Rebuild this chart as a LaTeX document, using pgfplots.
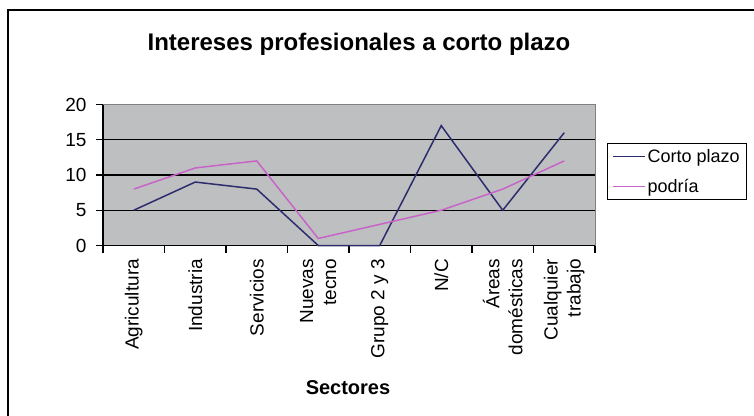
\documentclass[border=0pt]{standalone}
\usepackage{fontspec}
\setmainfont{Liberation Sans}
\usepackage{pgfplots}
\pgfplotsset{compat=1.18}

\definecolor{plotgray}{RGB}{190,191,193}
\definecolor{navyline}{RGB}{45,45,110}
\definecolor{pinkline}{RGB}{200,100,200}

\begin{document}
\begin{tikzpicture}
\path[use as bounding box, clip] (0pt,0pt) rectangle (754pt,415pt);
\fill[white] (0pt,0pt) rectangle (754pt,415pt);
\draw[line width=1.2pt] (8pt,-5pt) -- (8pt,405pt) -- (760pt,405pt);

\node[font=\fontsize{24}{28}\selectfont\bfseries] at (359pt,371pt) {Intereses profesionales a corto plazo};
\node[font=\fontsize{20}{24}\selectfont\bfseries] at (348pt,27pt) {Sectores};

\begin{axis}[
    at={(103pt,169.5pt)}, anchor=south west,
    scale only axis, width=492pt, height=141pt,
    xmin=-0.5, xmax=7.5, ymin=0, ymax=20,
    clip=false,
    axis x line*=bottom, axis y line*=left,
    axis line style={-, black, line width=1.2pt},
    axis background/.style={fill=plotgray, draw=gray},
    xtick={0,...,7},
    xticklabels={Agricultura, Industria, Servicios, {Nuevas\\tecno}, Grupo 2 y 3, N/C, {Áreas\\domésticas}, {Cualquier\\trabajo}},
    major x tick style={draw=none},
    minor xtick={-0.5,0.5,...,7.5},
    minor x tick style={black, line width=1.2pt},
    minor tick length=7pt,
    ytick={0,5,10,15},
    extra y ticks={20},
    extra y tick style={grid=none},
    ymajorgrids,
    major grid style={black, line width=1.2pt},
    y tick style={black, line width=1.2pt},
    major tick length=7pt,
    tick align=outside,
    /pgf/number format/assume math mode=true,
    tick label style={font=\fontsize{19}{23}\selectfont},
    xticklabel style={rotate=90, anchor=east, align=right},
    xticklabel shift=3pt,
    yticklabel shift=6pt,
    legend style={at={(1.0244,0.727)}, anchor=north west, draw=black, line width=0.8pt,
        font=\fontsize{18}{22}\selectfont, inner xsep=5pt, inner ysep=4pt, row sep=11pt, cells={anchor=west}},
    legend cell align=left,
    legend image code/.code={\draw[#1, line width=1.2pt] (0pt,0pt) -- (32pt,0pt);},
]
\addplot[navyline, line width=1.5pt, mark=none] coordinates {
    (0,5) (1,9) (2,8) (3,0) (4,0) (5,17) (6,5) (7,16)
};
\addlegendentry{Corto plazo}
\addplot[pinkline, line width=1.5pt, mark=none] coordinates {
    (0,8) (1,11) (2,12) (3,1) (4,3) (5,5) (6,8) (7,12)
};
\addlegendentry{podría}
\end{axis}
\end{tikzpicture}
\end{document}
